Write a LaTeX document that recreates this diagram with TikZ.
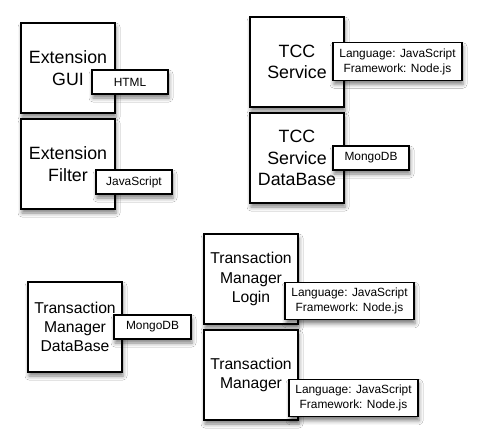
\documentclass[tikz,border=0pt]{standalone}
\usepackage{fontspec}
\setmainfont{Liberation Sans}
\usetikzlibrary{shadows.blur}
\tikzset{
  compbox/.style={draw=black, line width=1.2pt, fill=white, minimum width=94pt, minimum height=90pt,
    inner sep=0pt, align=center, font=\fontsize{17.8}{21.6}\selectfont,
    blur shadow={shadow xshift=1pt, shadow yshift=-4pt, shadow blur radius=4pt, shadow opacity=50}},
  tmbox/.style={compbox, font=\fontsize{15.7}{19.3}\selectfont},
  techbox/.style={draw=black, line width=1.1pt, fill=white, inner sep=0pt, align=center,
    font=\fontsize{11.9}{15}\selectfont,
    blur shadow={shadow xshift=1pt, shadow yshift=-4pt, shadow blur radius=4pt, shadow opacity=50}},
  smalltech/.style={techbox, minimum width=76pt, minimum height=24pt},
  bigtech/.style={techbox, minimum width=129pt, minimum height=37.5pt}
}
\begin{document}
\begin{tikzpicture}[x=1pt,y=-1pt]
\useasboundingbox[fill=white] (0,0) rectangle (482,444);
% components
\node[compbox] (gui) at (68,68) {Extension\\GUI};
\node[smalltech] (html) at (130,82) {HTML};
\node[compbox] (filter) at (68,164) {Extension\\Filter};
\node[smalltech] (js) at (134,182) {JavaScript};
\node[compbox] (tcc) at (297,62) {TCC\\Service};
\node[bigtech] (tccl) at (397.5,61.5) {Language: JavaScript\\Framework: Node.js};
\node[compbox] (tccdb) at (297,158) {TCC\\Service\\DataBase};
\node[smalltech] (tccmongo) at (371,158) {MongoDB};
\node[tmbox] (tmdb) at (75,327) {Transaction\\Manager\\DataBase};
\node[smalltech, minimum width=77pt] (tmmongo) at (152.5,327) {MongoDB};
\node[tmbox] (tml) at (251,279) {Transaction\\Manager\\Login};
\node[bigtech] (tmll) at (349.5,301) {Language: JavaScript\\Framework: Node.js};
\node[tmbox] (tm) at (251,375) {Transaction\\Manager};
\node[bigtech] (tmlang) at (353.5,398) {Language: JavaScript\\Framework: Node.js};
\end{tikzpicture}
\end{document}
